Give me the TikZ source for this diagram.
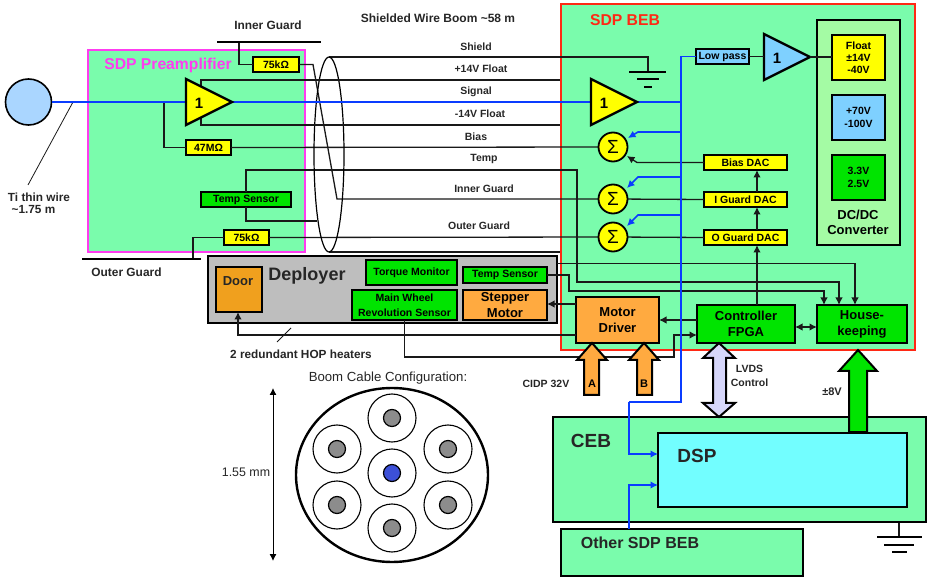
\documentclass[tikz,border=0pt]{standalone}
\usepackage{fontspec}
\setmainfont{Liberation Sans}
\usetikzlibrary{arrows.meta,shapes.geometric}
\definecolor{bgreen}{RGB}{122,252,172}
\definecolor{lgreen}{RGB}{164,251,164}
\definecolor{pgreen}{RGB}{0,228,0}
\definecolor{yel}{RGB}{255,255,0}
\definecolor{lblue}{RGB}{126,208,255}
\definecolor{sphere}{RGB}{170,214,255}
\definecolor{cyanb}{RGB}{114,254,255}
\definecolor{orng}{RGB}{255,170,64}
\definecolor{door}{RGB}{240,160,30}
\definecolor{gry}{RGB}{190,190,190}
\definecolor{lav}{RGB}{214,214,250}
\definecolor{wireblue}{RGB}{10,60,255}
\definecolor{magb}{RGB}{255,60,240}
\definecolor{redb}{RGB}{255,40,20}
\definecolor{core}{RGB}{140,140,140}
\definecolor{coreb}{RGB}{60,80,216}
\newcommand\fs[1]{\fontsize{#1}{#1}\selectfont}
\newcommand\bx[7]{\node[#6,minimum width={(#4)-(#2)},minimum height={(#5)-(#3)}] (#1) at ({((#2)+(#4))/2},{((#3)+(#5))/2}) {#7};}
\newcommand\ampl[4]{%
  \draw[line width=2.4pt,line join=miter,fill=#4] (#2,#3-23) -- (#2,#3+23) -- (#2+46,#3) -- cycle;
  \node[font=\bfseries\fs{15}] (#1lab) at (#2+13,#3+1) {1};}
\tikzset{
  wire/.style={line width=1.3pt,draw=black!90},
  thinw/.style={line width=.8pt,draw=black!90},
  bw/.style={line width=1.6pt,draw=wireblue},
  tip/.style={-{Latex[length=7.5pt,width=7.5pt]}},
  boxs/.style={draw=black,line width=2pt,inner sep=0pt,outer sep=0pt,align=center,font=\bfseries\fs{10.5}},
  thk/.style={boxs,line width=2.6pt},
  lab/.style={inner sep=0pt,align=center,font=\bfseries\fs{10.5},text=black!85},
  bigl/.style={inner sep=0pt,align=center,font=\bfseries\fs{12.5}},
  sumn/.style={circle,draw=black,line width=1.8pt,fill=yel,minimum size=29pt,inner sep=0pt,outer sep=0pt,font=\fs{19}},
  blk/.style={line width=2pt,draw=black,line join=miter},
  ring/.style={circle,draw=black,line width=1.1pt,fill=white,minimum size=48pt,inner sep=0pt},
  cor/.style={circle,draw=black,line width=1.2pt,fill=core,minimum size=17pt,inner sep=0pt},
}
\begin{document}
\begin{tikzpicture}[x=1pt,y=-1pt]
\useasboundingbox (0,0) rectangle (927,577);
% large panels
\bx{pre}{88}{50}{305}{252}{draw=magb,line width=2.4pt,fill=bgreen,inner sep=0pt}{}
\bx{beb}{561}{4}{915}{350}{draw=redb,line width=2.4pt,fill=bgreen,inner sep=0pt}{}
\node[inner sep=0pt,font=\bfseries\fs{15.7},text=magb] (pretitle) at (168,65) {SDP Preamplifier};
\node[inner sep=0pt,font=\bfseries\fs{15.7},text=redb] (bebtitle) at (625,20) {SDP BEB};

% key coordinates and boxes (placed first so that wires can refer to them)
\node[circle,draw=black,line width=1.6pt,fill=sphere,minimum size=46pt,inner sep=0pt,outer sep=0pt] (ti) at (28.5,102) {};
\coordinate (ig) at (239,42); \coordinate (igl) at (217,42); \coordinate (igr) at (321,42);
\coordinate (og) at (193,259); \coordinate (ogl) at (82,259); \coordinate (ogr) at (201,259);
\coordinate (ctop) at (329,57); \coordinate (cbot) at (329,252);
\coordinate (s1) at (613,147); \coordinate (s2) at (613,199); \coordinate (s3) at (613,237);
\coordinate (tapA) at (164,102);
\coordinate (tiw) at (73,102); \coordinate (tiend) at (28,185);
\coordinate (gnd) at (648,72);
\coordinate (gnd2) at (899,537);

\bx{rig}{253}{57}{299}{72}{boxs,fill=yel}{75kΩ}
\bx{rog}{224}{230}{269}{245}{boxs,fill=yel}{75kΩ}
\bx{rbias}{186}{140}{231}{155}{boxs,fill=yel}{47MΩ}
\bx{tsens}{201}{192}{291}{207}{boxs,fill=pgreen}{Temp Sensor}

\bx{lowp}{696}{49}{749}{64}{boxs,fill=lblue}{Low pass}
\bx{bdac}{704}{155}{787}{170}{boxs,fill=yel}{Bias DAC}
\bx{idac}{704}{192}{787}{207}{boxs,fill=yel}{I Guard DAC}
\bx{odac}{704}{230}{787}{245}{boxs,fill=yel}{O Guard DAC}
\bx{dep}{208}{256}{557}{323}{thk,fill=gry}{}
\bx{door}{216}{267}{262}{312}{boxs,fill=door}{}
\node[inner sep=0pt,font=\bfseries\fs{13},text=black!85] (doorlab) at (238,281) {Door};
\node[inner sep=0pt,font=\bfseries\fs{18},text=black!85] (deplab) at (307,276) {Deployer};
\bx{torque}{366}{260}{457}{285}{boxs,fill=pgreen}{Torque Monitor}
\bx{dtemp}{463}{267}{547}{283}{boxs,fill=pgreen}{Temp Sensor}
\bx{wheel}{352}{290}{457}{320}{boxs,fill=pgreen}{Main Wheel\\[4pt]Revolution Sensor}
\bx{step}{463}{290}{547}{320}{boxs,fill=orng,font=\bfseries\fs{13}}{Stepper\\[3.5pt]Motor}
\bx{motor}{576}{297}{659}{343}{thk,fill=orng,font=\bfseries\fs{13}}{Motor\\[3.5pt]Driver}
\bx{fpga}{697}{305}{795}{343}{thk,fill=pgreen,font=\bfseries\fs{13}}{Controller\\[3pt]FPGA}
\bx{hk}{817}{305}{907}{343}{thk,fill=pgreen,font=\bfseries\fs{13}}{House-\\[3pt]keeping}

% wires
\draw[wire] (ctop) -- (648,57) -- (gnd);
\draw[wire] (cbot) -- (beb.west |- cbot);
\draw[wire] (rig.east) -- (313,64.5) -- (337,199) -- (s2);
\draw[wire] (rig.west) -- (239,64.5) -- (ig);
\draw[wire] (rbias.east) -- (s1);
\draw[wire] (tapA) -- (164,147.5) -- (rbias.west);
\draw[wire,tip] (tsens.north) -- (246,170) -- (577,170) -- (577,282) -- (839,282) -- (hk.north -| 839,0);
\draw[wire] (tsens.south) -- (246,221) -- (317,221);
\draw[wire] (rog.east) -- (s3);
\draw[wire] (rog.west) -- (193,237.5) -- (og);
\draw[wire,tip] (dep.east |- 0,263.5) -- (855,263.5) -- (hk.north -| 855,0);
\draw[wire,tip] (dtemp.east) -- (569,275) -- (569,291) -- (824,291) -- (hk.north -| 824,0);
\draw[wire,tip] (motor.west |- 0,335) -- (238,335) -- (door.south -| 238,0);
\draw[wire,tip] (wheel.south) -- (404.5,357) -- (674,357) -- (674,335) -- (fpga.west |- 0,335);
\draw[wire,tip] (fpga.north -| 757,0) -- (odac.south -| 757,0);
\draw[wire,tip] (odac.north -| 757,0) -- (idac.south -| 757,0);
\draw[wire,tip] (idac.north -| 757,0) -- (bdac.south -| 757,0);
\draw[wire,tip] (fpga.west |- 0,320) -- (motor.east |- 0,320);
\draw[wire,{Latex[length=7.5pt,width=7.5pt]}-{Latex[length=7.5pt,width=7.5pt]}] (fpga.east |- 0,327) -- (hk.west |- 0,327);
\draw[wire,line width=1.7pt,tip] (motor.west |- 0,304) -- (step.east |- 0,304);
\draw[wire,tip] (bdac.west) -- (637,162.5) -- (627,156);
\draw[wire,tip] (idac.west) -- (s2);
\draw[wire,tip] (odac.west) -- (s3);
\draw[thinw] (tiw) -- (tiend);

% bars and cable
\draw[line width=1.8pt] (igl) -- (igr);
\draw[line width=1.8pt] (ogl) -- (ogr);
\draw[line width=1.2pt] (329,154.5) ellipse [x radius=15,y radius=97.5];

% amplifier supplies
\draw[wire] (201,86) -- (201,80) -- (beb.west |- 0,80);
\draw[wire] (201,118) -- (201,125) -- (beb.west |- 0,125);

% signal
\draw[bw] (ti.east) -- (186,102);
\draw[bw] (232,102) -- (591,102);
\draw[bw] (636,102) -- (681,102);
\draw[bw] (lowp.west) -- (681,56.5) -- (681,402) -- (629,402);
\draw[bw,tip] (681,132) -- (638,132) -- (628,138);
\draw[bw,tip] (681,177) -- (638,177) -- (627,188);
\draw[bw,tip] (681,215) -- (638,215) -- (627,226);

% amplifiers
\ampl{a}{186}{102}{yel}
\ampl{b}{591}{102}{yel}
\ampl{c}{764}{57}{lblue}
\draw[wire] (lowp.east) -- (764,56.5);
\node[sumn] (sa) at (s1) {Σ};
\node[sumn] (sb) at (s2) {Σ};
\node[sumn] (sc) at (s3) {Σ};

% DC/DC
\bx{dc}{817}{20}{900}{245}{thk,fill=lgreen}{}
\bx{vf}{832}{35}{885}{80}{thk,fill=yel}{Float\\[2pt]±14V\\[1pt]-40V}
\bx{vh}{832}{95}{885}{140}{thk,fill=lblue}{+70V\\[3pt]-100V}
\bx{vl}{832}{155}{885}{200}{thk,fill=pgreen}{3.3V\\[3pt]2.5V}
\node[bigl,font=\bfseries\fs{13}] (dclab) at (858,222) {DC/DC\\[2pt]Converter};
\draw[wire] (810,57) -- (vf.west |- 0,57);

% ground symbols
\draw[line width=1.1pt] (629,72) -- (666,72) (637,79) -- (659,79) (644,87) -- (652,87);
\draw[wire,line width=1.5pt] (899,522) -- (gnd2);
\draw[line width=1.3pt] (877,537) -- (922,537) (884,545) -- (914,545) (892,552) -- (907,552);

% CEB
\bx{ceb}{553}{417}{926}{522}{thk,fill=bgreen}{}
\bx{other}{561}{529}{803}{576}{thk,fill=bgreen}{}
\bx{dsp}{658}{433}{907}{507}{thk,fill=cyanb}{}
\node[inner sep=0pt,font=\bfseries\fs{19},text=black!85] (ceblab) at (591,441) {CEB};
\node[inner sep=0pt,font=\bfseries\fs{19},text=black!85] (dsplab) at (697,456) {DSP};
\node[inner sep=0pt,font=\bfseries\fs{16},text=black!85] (othlab) at (640,543) {Other SDP BEB};
\draw[bw,tip] (629,402) -- (629,454) -- (dsp.west |- 0,454);
\draw[bw,tip] (other.north -| 629,0) -- (629,485) -- (dsp.west |- 0,485);

% block arrows
\draw[blk,fill=orng] (592,343) -- (607,360) -- (599,360) -- (599,395) -- (584,395) -- (584,360) -- (577,360) -- cycle;
\draw[blk,fill=orng] (644,343) -- (659,360) -- (652,360) -- (652,395) -- (637,395) -- (637,360) -- (629,360) -- cycle;
\node[inner sep=0pt,font=\bfseries\fs{11}] (pa) at (592,384) {A};
\node[inner sep=0pt,font=\bfseries\fs{11}] (pb) at (644,384) {B};
\draw[blk,fill=lav] (719,343) -- (735,358) -- (726,358) -- (726,403) -- (735,403) -- (719,417) -- (703,403) -- (713,403) -- (713,358) -- (703,358) -- cycle;
\draw[blk,fill=pgreen] (858,350) -- (877,371) -- (867,371) -- (867,432) -- (849,432) -- (849,371) -- (839,371) -- cycle;

% wire and other labels
\node[lab] (l1) at (476,47) {Shield};
\node[lab] (l2) at (481,69) {+14V Float};
\node[lab] (l3) at (476,92) {Signal};
\node[lab] (l4) at (480,114) {-14V Float};
\node[lab] (l5) at (476,137) {Bias};
\node[lab] (l6) at (484,159) {Temp};
\node[lab] (l7) at (484,189) {Inner Guard};
\node[lab] (l8) at (479,226) {Outer Guard};
\node[lab,font=\bfseries\fs{12}] (l9) at (438,18) {Shielded Wire Boom \textasciitilde58 m};
\node[lab,font=\bfseries\fs{11.9}] (l10) at (268,25) {Inner Guard};
\node[lab,font=\bfseries\fs{11.9}] (l11) at (126.5,272) {Outer Guard};
\node[lab,font=\bfseries\fs{11.8}] (l12) at (39,197) {Ti thin wire};
\node[lab,font=\bfseries\fs{11.8}] (l13) at (33.5,210) {\textasciitilde1.75 m};
\node[lab,font=\bfseries\fs{11.8}] (l14) at (301,354) {2 redundant HOP heaters};
\coordinate (hopa) at (291,328); \coordinate (hopb) at (277,342);
\draw[thinw] (hopa) -- (hopb);
\node[lab,font=\bfseries\fs{10.5}] (l15) at (546,384) {CIDP 32V};
\node[lab] (l16) at (749.5,376) {LVDS\\[3pt]Control};
\node[lab,font=\bfseries\fs{11}] (l17) at (832,392) {±8V};

% boom cable section
\node[inner sep=0pt,font=\fs{13.2},text=black!85] (l18) at (388,378) {Boom Cable Configuration:};
\node[draw=black,line width=2.4pt,ellipse,minimum width=192pt,minimum height=174pt,inner sep=0pt,outer sep=0pt] (cable) at (392,475) {};
\foreach \n/\px/\py/\c in {r0/392/473/coreb,r1/392/418/core,r2/392/528/core,r3/337/449/core,r4/337/505/core,r5/448/449/core,r6/448/505/core}{
  \node[ring] (\n) at (\px,\py) {};
  \node[cor,fill=\c] (\n c) at (\n) {};
}
\coordinate (dima) at (273,388); \coordinate (dimb) at (273,561);
\draw[line width=.9pt,{Latex[length=7pt,width=7pt]}-{Latex[length=7pt,width=7pt]}] (dima) -- (dimb);
\node[inner sep=0pt,font=\fs{12.4},text=black!85] (l19) at (246,472) {1.55 mm};
\end{tikzpicture}
\end{document}
